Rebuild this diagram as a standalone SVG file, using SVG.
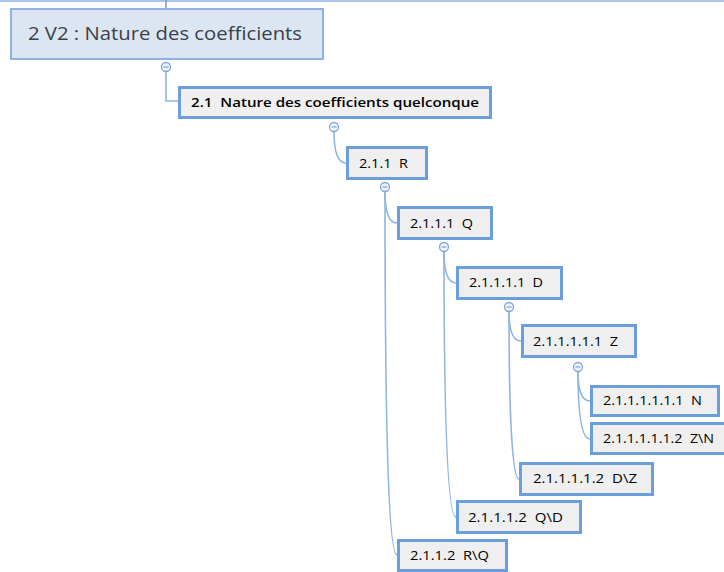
<svg xmlns="http://www.w3.org/2000/svg" width="724" height="572" viewBox="0 0 724 572">
<style>
  .bg { fill: #ffffff; }
  text { white-space: pre; }
  .root rect { fill: #dce6f2; stroke: #8db3e2; stroke-width: 2; }
  .root text { font-family: "Open Sans", "Noto Sans", "Liberation Sans", sans-serif; font-size: 19px; fill: #3a3f4a; }
  .node rect { fill: #efefef; stroke: #6a9fdc; stroke-width: 3; }
  .node text { font-family: "Open Sans", "Noto Sans", "Liberation Sans", sans-serif; font-size: 13px; fill: #000000; }
  .node text.strong { font-weight: 600; font-size: 12.5px; }
  .conn path, .conn line { fill: none; stroke: #8fb5e4; stroke-width: 1.6; }
  .toggle circle { fill: #eef3fa; stroke: #7fa7da; stroke-width: 1.3; }
  .toggle line { stroke: #7fa7da; stroke-width: 1.2; }
</style>
<rect class="bg" x="0" y="0" width="724" height="572"/>

<g id="connectors" class="conn">
  <line x1="0" y1="1" x2="724" y2="1" style="stroke:#a9c7ec;stroke-width:2"/>
  <line x1="166" y1="0" x2="166" y2="9" style="stroke:#7f9cc4"/>
  <path d="M166,71.5 L166,101 L178,101"/>
  <path d="M334,131.5 C334,151 337,163 346,163"/>
  <path d="M385,191.5 C385,210 388,223 397,223"/>
  <path d="M385,191.5 C385,410 388,555 397,555"/>
  <path d="M444,251.5 C444,270 447,283 456,283"/>
  <path d="M444,251.5 C444,410 447,517 456,517"/>
  <path d="M509,311.5 C509,330 512,341 521,341"/>
  <path d="M509,311.5 C509,410 512,479 519,479"/>
  <path d="M578,371.5 C578,390 581,401 590,401"/>
  <path d="M578,371.5 C578,410 581,439 590,439"/>
</g>

<g id="toggles" class="toggle">
  <g><circle cx="166" cy="67" r="4.5"/><line x1="163.5" y1="67" x2="168.5" y2="67"/></g>
  <g><circle cx="334" cy="127" r="4.5"/><line x1="331.5" y1="127" x2="336.5" y2="127"/></g>
  <g><circle cx="385" cy="187" r="4.5"/><line x1="382.5" y1="187" x2="387.5" y2="187"/></g>
  <g><circle cx="444" cy="247" r="4.5"/><line x1="441.5" y1="247" x2="446.5" y2="247"/></g>
  <g><circle cx="509" cy="307" r="4.5"/><line x1="506.5" y1="307" x2="511.5" y2="307"/></g>
  <g><circle cx="578" cy="367" r="4.5"/><line x1="575.5" y1="367" x2="580.5" y2="367"/></g>
</g>

<g id="n2" class="root">
  <rect x="11" y="9" width="312" height="50"/>
  <text x="28" y="39.5" textLength="274" lengthAdjust="spacingAndGlyphs">2 V2 : Nature des coefficients</text>
</g>

<g id="n2_1" class="node">
  <rect x="179.5" y="87.5" width="311" height="30"/>
  <text class="strong" x="191" y="107" textLength="288" lengthAdjust="spacingAndGlyphs" xml:space="preserve">2.1  Nature des coefficients quelconque</text>
</g>

<g id="n2_1_1" class="node">
  <rect x="347.5" y="147.5" width="79" height="31"/>
  <text x="359" y="167.5" textLength="49" lengthAdjust="spacingAndGlyphs" xml:space="preserve">2.1.1  R</text>
</g>

<g id="n2_1_1_1" class="node">
  <rect x="398.5" y="207.5" width="93" height="31"/>
  <text x="410" y="227.5" textLength="63" lengthAdjust="spacingAndGlyphs" xml:space="preserve">2.1.1.1  Q</text>
</g>

<g id="n2_1_1_1_1" class="node">
  <rect x="457.5" y="267.5" width="104" height="31"/>
  <text x="469" y="287" textLength="74" lengthAdjust="spacingAndGlyphs" xml:space="preserve">2.1.1.1.1  D</text>
</g>

<g id="n2_1_1_1_1_1" class="node">
  <rect x="522.5" y="325.5" width="113" height="31"/>
  <text x="533" y="346" textLength="85" lengthAdjust="spacingAndGlyphs" xml:space="preserve">2.1.1.1.1.1  Z</text>
</g>

<g id="n2_1_1_1_1_1_1" class="node">
  <rect x="591.5" y="386.5" width="127" height="29"/>
  <text x="603" y="405" textLength="99" lengthAdjust="spacingAndGlyphs" xml:space="preserve">2.1.1.1.1.1.1  N</text>
</g>

<g id="n2_1_1_1_1_1_2" class="node">
  <rect x="591.5" y="423.5" width="140" height="30"/>
  <text x="603" y="443" textLength="111" lengthAdjust="spacingAndGlyphs" xml:space="preserve">2.1.1.1.1.1.2  Z\N</text>
</g>

<g id="n2_1_1_1_1_2" class="node">
  <rect x="520.5" y="463.5" width="132" height="31"/>
  <text x="533" y="483" textLength="104" lengthAdjust="spacingAndGlyphs" xml:space="preserve">2.1.1.1.1.2  D\Z</text>
</g>

<g id="n2_1_1_1_2" class="node">
  <rect x="457.5" y="501.5" width="123" height="31"/>
  <text x="468" y="521.5" textLength="95" lengthAdjust="spacingAndGlyphs" xml:space="preserve">2.1.1.1.2  Q\D</text>
</g>

<g id="n2_1_1_2" class="node">
  <rect x="398.5" y="540.5" width="108" height="30"/>
  <text x="410" y="560" textLength="79" lengthAdjust="spacingAndGlyphs" xml:space="preserve">2.1.1.2  R\Q</text>
</g>
</svg>
